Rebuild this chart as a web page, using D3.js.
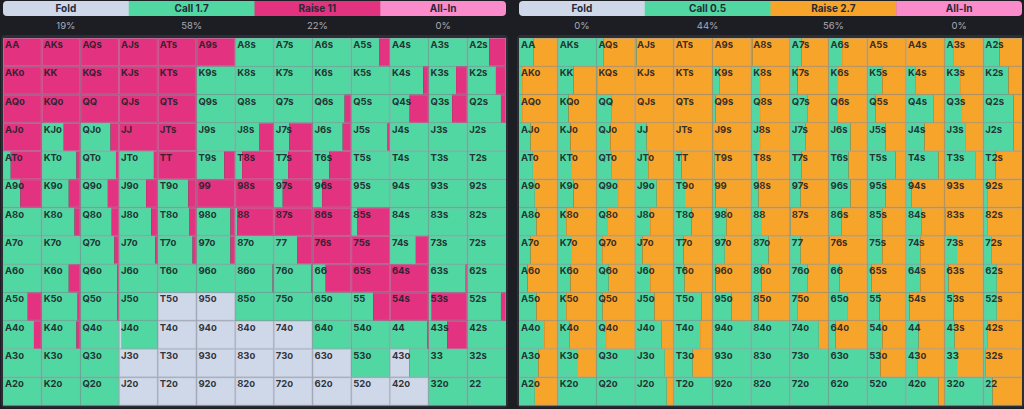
<!DOCTYPE html>
<html>
<head>
<meta charset="utf-8">
<script src="https://cdn.jsdelivr.net/npm/d3@7"></script>
<style>
body { margin: 0; background: #1d1e23; }
svg { display: block; font-family: Inter, "Noto Sans", sans-serif; }
</style>
</head>
<body>
<svg id="chart" width="1024" height="409"></svg>
<script>
var ranks = ["A", "K", "Q", "J", "T", "9", "8", "7", "6", "5", "4", "3", "2"];

var actionsLeft = ["Fold", "Call 1.7", "Raise 11", "All-In"];
var pctLeft = ["19%", "58%", "22%", "0%"];
var actionsRight = ["Fold", "Call 0.5", "Raise 2.7", "All-In"];
var pctRight = ["0%", "44%", "56%", "0%"];

// left matrix: fold share and raise share per hand, call is the rest
var foldLeft = [
  [0,0,0,0,0,0,0,0,0,0,0,0,0],
  [0,0,0,0,0,0,0,0,0,0,0,0,0],
  [0,0,0,0,0,0,0,0,0,0,0,0,0],
  [0,0,0,0,0,0,0,0,0,0,0,0,0],
  [0,0,0,0,0,0,0,0,0,0,0,0,0],
  [0,0,0,0,0,0,0,0,0,0,0,0,0],
  [0,0,0,0,0,0,0,0,0,0,0,0,0],
  [0,0,0,0,0,0,0,0,0,0,0,0,0],
  [0,0,0,0,0,0,0,0,0,0,0,0,0],
  [0,0,0,0,1,1,0,0,0,0,0,0,0],
  [0,0,0,0.07,1,1,1,1,0,0,0,0,0],
  [0,0,0,1,1,1,1,1,1,0,0.5,0,0],
  [0,0,0,1,1,1,1,1,1,1,1,0,0]
];
var raiseLeft = [
  [1,1,1,1,1,1,0,0,0,0.27,0,0,0.43],
  [1,1,1,1,1,0,0,0,0,0,0.14,0.29,0.26],
  [1,1,1,1,1,0,0,0,0.17,0,0.49,0.39,0.13],
  [1,0.43,0.22,1,1,0,0.37,0.6,0.22,0.06,0,0,0],
  [0.8,0.1,0.08,0.1,1,0.28,0.82,0.63,0.57,0,0,0,0],
  [0.55,0.3,0.29,0.3,0.21,1,1,0.77,0.75,0,0,0,0],
  [0,0.15,0.19,0.17,0.18,0.12,0.95,1,1,0.85,0,0,0],
  [0,0,0.12,0.06,0.1,0.12,0,0.4,1,1,0.33,0,0],
  [0,0.3,0.04,0,0,0,0.03,0.04,0.66,1,1,0.04,0],
  [0.36,0.07,0.04,0,0,0,0,0,0,0.43,1,0.92,0.13],
  [0.2,0.1,0,0,0,0,0,0,0,0,0.03,0.52,0],
  [0,0,0,0,0,0,0,0,0,0,0,0,0],
  [0,0,0,0,0,0,0,0,0,0,0,0,0]
];

// right matrix: call share per hand, raise is the rest
var callRight = [
  [0.38,1,0.19,0.04,0,0,0.03,0.3,0.35,0,0,0.22,0.42],
  [0.08,0.41,0.04,0,0,0.19,0.23,0.2,0.22,0.39,0.24,0.4,0.65],
  [0.08,0.28,0.4,0,0,0.08,0.23,0.45,0.22,0.22,0.72,0.45,0.78],
  [0.3,0.33,0.36,0.3,0,0.04,0.23,0.4,0.57,0.47,0.48,0.53,0.78],
  [0.36,0.37,0.4,0.34,0.2,0.06,0.15,0.3,0.52,0.73,0.84,0.79,0.31],
  [0.41,0.41,0.56,0.56,0.29,0.08,0.19,0.28,0.57,0.47,0.15,0,0.1],
  [0.45,0.22,0.3,0.39,0.46,0.36,0.28,0.02,0.34,0.39,0.41,0.03,0.1],
  [0.3,0.37,0.15,0.19,0.25,0.32,0.45,0.28,0.03,0.39,0.37,0.32,0.22],
  [0.22,0.33,0.32,0.39,0.28,0.08,0.27,0.45,0.28,0.11,0.37,0.1,0.35],
  [0.45,0.22,0.16,0.5,0.72,0.49,0.19,0.19,0.48,0.32,0.09,0.23,0.35],
  [0.65,0.3,0.25,0.69,0.68,1,1,0.75,0.18,0.39,0.33,0.26,0.1],
  [0.5,0.5,1,0.77,0.49,1,1,1,1,0.34,0.31,0.32,0.05],
  [0.41,1,1,0.82,1,1,1,1,1,1,0.84,1,0.24]
];

var keys = ["fold", "call", "raise", "allin"];
var colorsLeft = ["#cfd8e9", "#50d7a2", "#e3327f", "#fa8ccb"];
var colorsRight = ["#cfd8e9", "#50d7a2", "#f7a42a", "#fa8ccb"];

var svg = d3.select("#chart");

function handName(r, c) {
  if (r == c) return ranks[r] + ranks[c];
  if (c > r) return ranks[r] + ranks[c] + "s";
  return ranks[c] + ranks[r] + "o";
}

function buildCells(getMix) {
  var cells = [];
  for (var r = 0; r < 13; r++) {
    for (var c = 0; c < 13; c++) {
      var m = getMix(r, c);
      cells.push({row: r, col: c, name: handName(r, c), fold: m[0], call: m[1], raise: m[2], allin: m[3]});
    }
  }
  return cells;
}

function drawPanel(x0, x1, actions, pcts, colors, cells, id) {
  var g = svg.append("g");

  // header bar
  var hx = d3.scaleBand().domain(d3.range(4)).range([x0, x1]);
  g.append("clipPath").attr("id", "clip" + id)
    .append("rect").attr("x", x0).attr("y", 1).attr("width", x1 - x0).attr("height", 15).attr("rx", 4);
  var head = g.append("g").attr("clip-path", "url(#clip" + id + ")");
  head.selectAll("rect").data(actions).enter().append("rect")
    .attr("x", (d, i) => hx(i))
    .attr("y", 1)
    .attr("width", hx.bandwidth() + 0.5)
    .attr("height", 15)
    .attr("fill", (d, i) => colors[i]);
  g.selectAll("text.head").data(actions).enter().append("text")
    .attr("class", "head")
    .attr("x", (d, i) => hx(i) + hx.bandwidth() / 2)
    .attr("y", 12)
    .attr("text-anchor", "middle")
    .attr("font-size", "10px")
    .attr("font-weight", 700)
    .attr("fill", "#272a36")
    .text(d => d);
  g.selectAll("text.pct").data(pcts).enter().append("text")
    .attr("class", "pct")
    .attr("x", (d, i) => hx(i) + hx.bandwidth() / 2)
    .attr("y", 28.5)
    .attr("text-anchor", "middle")
    .attr("font-size", "9.5px")
    .attr("fill", "#a9acb4")
    .text(d => d);

  // grid
  var top = 38, bottom = 405.5;
  g.append("rect")
    .attr("x", x0 - 2).attr("y", top - 3)
    .attr("width", x1 - x0 + 4).attr("height", bottom - top + 5)
    .attr("rx", 4)
    .attr("fill", "#2c2e35");

  var x = d3.scaleBand().domain(d3.range(13)).range([x0, x1]);
  var y = d3.scaleBand().domain(d3.range(13)).range([top, bottom]);
  var frac = d3.scaleLinear().domain([0, 1]).range([0, x.bandwidth()]);

  var series = d3.stack().keys(keys)(cells);
  series.forEach(function(s, k) {
    g.append("g").selectAll("rect").data(s).enter().append("rect")
      .attr("x", d => x(d.data.col) + frac(d[0]))
      .attr("y", d => y(d.data.row))
      .attr("width", d => Math.max(0, frac(d[1]) - frac(d[0])))
      .attr("height", y.bandwidth())
      .attr("fill", colors[k]);
  });

  g.append("g").selectAll("rect").data(cells).enter().append("rect")
    .attr("x", d => x(d.col) + 0.5)
    .attr("y", d => y(d.row) + 0.5)
    .attr("width", x.bandwidth() - 1)
    .attr("height", y.bandwidth() - 1)
    .attr("fill", "none")
    .attr("stroke", "rgba(160,165,178,0.45)")
    .attr("stroke-width", 1);

  g.append("g").selectAll("text").data(cells).enter().append("text")
    .attr("x", d => x(d.col) + 2)
    .attr("y", d => y(d.row) + 10)
    .attr("font-size", "9.5px")
    .attr("font-weight", 700)
    .attr("fill", "#1c2026")
    .attr("fill-opacity", 0.9)
    .text(d => d.name);
}

var leftCells = buildCells(function(r, c) {
  var f = foldLeft[r][c], ra = raiseLeft[r][c];
  return [f, Math.max(0, 1 - f - ra), ra, 0];
});
var rightCells = buildCells(function(r, c) {
  var ca = callRight[r][c];
  return [0, ca, 1 - ca, 0];
});

drawPanel(3, 506, actionsLeft, pctLeft, colorsLeft, leftCells, "L");
drawPanel(519, 1022, actionsRight, pctRight, colorsRight, rightCells, "R");
</script>
</body>
</html>
